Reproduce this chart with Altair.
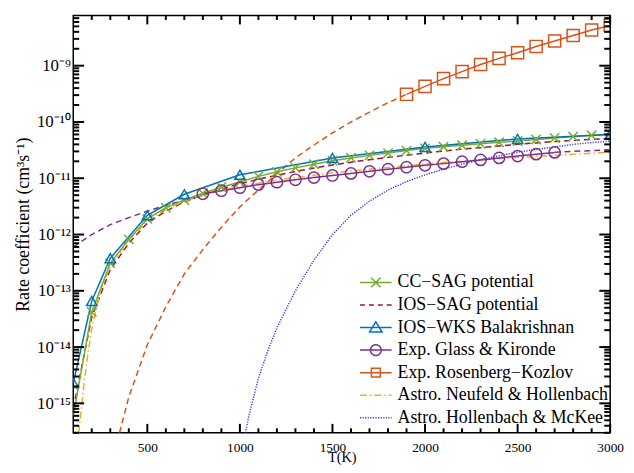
import altair as alt
import pandas as pd

# ---------------- data ----------------
SERIES = ["CC\u2212SAG potential", "IOS\u2212SAG potential", "IOS\u2212WKS Balakrishnan",
          "Exp. Glass & Kironde", "Exp. Rosenberg\u2212Kozlov",
          "Astro. Neufeld & Hollenbach", "Astro. Hollenbach & McKee"]
COLORS = ["#77AC30", "#A2142F", "#0072BD", "#7E2F8E", "#D95319", "#EDB120", "#3636FF"]

T_full = [100, 200, 300, 400, 500, 600, 700, 800, 900, 1000, 1100, 1200, 1300, 1400, 1500,
          1600, 1700, 1800, 1900, 2000, 2100, 2200, 2300, 2400, 2500, 2600, 2700, 2800, 2900, 3000]
k_cc = [6.0e-16, 4.2e-14, 3.1e-13, 8.2e-13, 1.9e-12, 3.0e-12, 4.1e-12, 5.4e-12, 6.9e-12, 8.6e-12,
        1.08e-11, 1.3e-11, 1.53e-11, 1.78e-11, 2.05e-11, 2.3e-11, 2.55e-11, 2.8e-11, 3.1e-11, 3.4e-11,
        3.62e-11, 3.85e-11, 4.1e-11, 4.35e-11, 4.6e-11, 4.9e-11, 5.2e-11, 5.5e-11, 5.8e-11, 6.1e-11]
k_sag = [8.0e-16, 3.4e-14, 2.4e-13, 7.0e-13, 1.6e-12, 2.6e-12, 3.8e-12, 5.0e-12, 6.4e-12, 8.0e-12,
         9.6e-12, 1.13e-11, 1.32e-11, 1.52e-11, 1.72e-11, 1.93e-11, 2.13e-11, 2.35e-11, 2.57e-11, 2.8e-11,
         3.05e-11, 3.3e-11, 3.5e-11, 3.75e-11, 4.0e-11, 4.25e-11, 4.5e-11, 4.7e-11, 4.9e-11, 5.1e-11]
T_wks = [100, 200, 300, 500, 700, 1000, 1500, 2000, 2500, 3000]
k_wks = [2.3e-15, 6.6e-14, 3.8e-13, 2.2e-12, 5.2e-12, 1.15e-11, 2.3e-11, 3.6e-11, 5.0e-11, 6.0e-11]
T_glass = [800, 900, 1000, 1100, 1200, 1300, 1400, 1500, 1600, 1700, 1800, 1900, 2000, 2100,
           2200, 2300, 2400, 2500, 2600, 2700]
k_glass = [5.3e-12, 6.0e-12, 6.8e-12, 7.7e-12, 8.5e-12, 9.4e-12, 1.03e-11, 1.12e-11, 1.22e-11, 1.33e-11,
           1.45e-11, 1.57e-11, 1.7e-11, 1.82e-11, 1.97e-11, 2.12e-11, 2.3e-11, 2.48e-11, 2.68e-11, 2.88e-11]
T_glass_lo = [100, 200, 300, 400, 500, 600, 700, 800]
k_glass_lo = [6.0e-13, 1.0e-12, 1.5e-12, 2.0e-12, 2.6e-12, 3.3e-12, 4.1e-12, 5.0e-12]
T_glass_hi = [2700, 2800, 2900, 3000]
k_glass_hi = [2.9e-11, 3.0e-11, 3.1e-11, 3.2e-11]
T_rk = [1900, 2000, 2100, 2200, 2300, 2400, 2500, 2600, 2700, 2800, 2900, 3000]
k_rk = [3.1e-10, 4.3e-10, 5.9e-10, 7.85e-10, 1.05e-9, 1.35e-9, 1.7e-9, 2.2e-9, 2.75e-9, 3.45e-9,
        4.3e-9, 5.2e-9]
T_rk_fit = [350, 400, 500, 600, 700, 800, 900, 1000, 1100, 1200, 1300, 1400, 1500, 1600, 1700, 1800, 1900]
k_rk_fit = [3.0e-16, 1.3e-15, 1.1e-14, 5.2e-14, 2.0e-13, 5.4e-13, 1.35e-12, 3.1e-12, 6.2e-12, 1.2e-11,
            2.3e-11, 3.9e-11, 6.4e-11, 1.0e-10, 1.5e-10, 2.2e-10, 3.1e-10]
T_nh = [130, 140, 160, 180, 200, 250, 300, 400, 500, 600, 700, 800, 1000, 1200, 1500, 2000, 2500, 3000]
k_nh = [3.0e-16, 6.3e-16, 2.5e-15, 8.0e-15, 2.1e-14, 1.1e-13, 2.7e-13, 8.0e-13, 1.7e-12, 2.8e-12,
        3.9e-12, 5.0e-12, 7.2e-12, 9.3e-12, 1.25e-11, 1.8e-11, 2.35e-11, 2.9e-11]
T_hm = [1030, 1050, 1100, 1150, 1200, 1300, 1400, 1500, 1600, 1700, 1800, 1900, 2000, 2100, 2200,
        2300, 2400, 2500, 2600, 2700, 2800, 2900, 3000]
k_hm = [3.0e-16, 6.3e-16, 2.8e-15, 8.5e-15, 2.2e-14, 1.0e-13, 3.5e-13, 1.0e-12, 2.2e-12, 3.9e-12,
        6.2e-12, 8.7e-12, 1.15e-11, 1.45e-11, 1.78e-11, 2.14e-11, 2.5e-11, 2.9e-11, 3.25e-11, 3.6e-11,
        4.0e-11, 4.3e-11, 4.55e-11]

# axis ticks / labels
X_DOMAIN = [100, 3000]
Y_DOMAIN = [3e-16, 7.8e-9]
X_MAJOR = [500, 1000, 1500, 2000, 2500, 3000]
X_MINOR = [t for t in T_full if t % 500 != 0 and t > 100]
Y_MAJOR = [1e-15, 1e-14, 1e-13, 1e-12, 1e-11, 1e-10, 1e-9]
Y_MAJOR_LABELS = ["10\u207b\u00b9\u2075", "10\u207b\u00b9\u2074", "10\u207b\u00b9\u00b3",
                  "10\u207b\u00b9\u00b2", "10\u207b\u00b9\u00b9", "10\u207b\u00b9\u2070", "10\u207b\u2079"]
Y_MINOR = [m * 10.0 ** e for e in range(-16, -8) for m in range(2, 10)
           if Y_DOMAIN[0] <= m * 10.0 ** e <= Y_DOMAIN[1]]

FONT = "Liberation Serif"
W, H = 543, 422


def rows(T, k, series, style, seg):
    return [dict(T=t, k=v, series=series, style=style, seg=seg) for t, v in zip(T, k)]


dashed_df = pd.DataFrame(
    rows(T_full, k_sag, SERIES[1], "dash", "sag")
    + rows(T_glass_lo, k_glass_lo, SERIES[3], "dash", "glo")
    + rows(T_glass_hi, k_glass_hi, SERIES[3], "dash", "ghi")
    + rows(T_rk_fit, k_rk_fit, SERIES[4], "dash", "rkfit")
    + rows(T_nh, k_nh, SERIES[5], "dashdot", "nh")
    + rows(T_hm, k_hm, SERIES[6], "dot", "hm"))
solid_df = pd.DataFrame(
    rows(T_full, k_cc, SERIES[0], "solid", "cc")
    + rows(T_wks, k_wks, SERIES[2], "solid", "wks")
    + rows(T_glass, k_glass, SERIES[3], "solid", "glass")
    + rows(T_rk, k_rk, SERIES[4], "solid", "rk"))
mark_df = pd.DataFrame(rows(T_full[1:], k_cc[1:], SERIES[0], "m", "cc")
                       + rows(T_wks, k_wks, SERIES[2], "m", "wks")
                       + rows(T_glass, k_glass, SERIES[3], "m", "glass")
                       + rows(T_rk, k_rk, SERIES[4], "m", "rk"))
legend_df = pd.DataFrame({"series": SERIES})

xs = alt.Scale(domain=X_DOMAIN, nice=False, zero=False)
ys = alt.Scale(type="log", domain=Y_DOMAIN, nice=False)
color = alt.Color("series:N", scale=alt.Scale(domain=SERIES, range=COLORS), legend=None)

label_expr = ""
for v, lab in zip(Y_MAJOR[:-1], Y_MAJOR_LABELS[:-1]):
    label_expr += f"datum.value < {v * 3:g} ? '{lab}' : "
label_expr += f"'{Y_MAJOR_LABELS[-1]}'"

x_axis = alt.Axis(orient="bottom", values=X_MAJOR, ticks=False, domain=False, grid=False,
                  labelFont=FONT, labelFontSize=13.5, labelColor="black", labelPadding=8,
                  labelFlush=False, format="d",
                  title="T(K)", titleFont=FONT, titleFontSize=14.5, titleFontWeight="normal",
                  titleColor="black", titleX=W / 2, titleY=29, titleAlign="center",
                  titleBaseline="alphabetic")
y_axis = alt.Axis(orient="left", values=Y_MAJOR, ticks=False, domain=False, grid=False,
                  labelExpr=label_expr, labelFont=FONT, labelFontSize=17, labelColor="black",
                  labelPadding=3, labelFlush=False,
                  title="Rate coefficient (cm\u00b3s\u207b\u00b9)", titleFont=FONT, titleFontSize=18,
                  titleFontWeight="normal", titleColor="black", titleX=-45, titleY=H / 2,
                  titleAngle=270, titleAlign="center", titleBaseline="alphabetic")

dashed = alt.Chart(dashed_df).mark_line(clip=True).encode(
    x=alt.X("T:Q", scale=xs, axis=x_axis),
    y=alt.Y("k:Q", scale=ys, axis=y_axis),
    color=color,
    strokeDash=alt.StrokeDash("style:N", scale=alt.Scale(domain=["dash", "dashdot", "dot"],
                                                           range=[[6, 4], [7, 3, 1.5, 3], [1.2, 1.4]]),
                              legend=None),
    strokeWidth=alt.StrokeWidth("style:N", scale=alt.Scale(domain=["dash", "dashdot", "dot"],
                                                             range=[1.5, 1.5, 2.8]), legend=None),
    detail="seg:N",
)

solid = alt.Chart(solid_df).mark_line(clip=True, strokeWidth=1.5).encode(
    x=alt.X("T:Q", scale=xs, axis=None),
    y=alt.Y("k:Q", scale=ys, axis=None),
    color=color,
    detail="seg:N",
)

X_PATH = "M-1,-1L1,1M-1,1L1,-1"
MARK_DOMAIN = [SERIES[0], SERIES[2], SERIES[3], SERIES[4]]
marks = alt.Chart(mark_df).mark_point(filled=False, strokeWidth=1.5, opacity=1, clip=True).encode(
    x=alt.X("T:Q", scale=xs, axis=None),
    y=alt.Y("k:Q", scale=ys, axis=None),
    color=color,
    shape=alt.Shape("series:N", scale=alt.Scale(domain=MARK_DOMAIN,
                                                range=[X_PATH, "triangle-up", "circle", "square"]),
                    legend=None),
    size=alt.Size("series:N", scale=alt.Scale(domain=MARK_DOMAIN, range=[90, 150, 121, 72]), legend=None),
)

# inward axis ticks (major and minor) on all four sides
TICK_W = 2
tick_layers = []
for vals, ln in [(X_MAJOR, 9), (X_MINOR, 4.5)]:
    df = pd.DataFrame({"T": vals})
    for top in (False, True):
        tick_layers.append(alt.Chart(df).mark_rule(color="#000000", strokeWidth=TICK_W).encode(
            x=alt.X("T:Q", scale=xs, axis=None),
            y=alt.value(0 if top else H), y2=alt.value(ln if top else H - ln)))
for vals, ln in [(Y_MAJOR, 11), (Y_MINOR, 6)]:
    df = pd.DataFrame({"k": vals})
    for right in (False, True):
        tick_layers.append(alt.Chart(df).mark_tick(color="#000000", thickness=TICK_W, size=ln,
                                                   orient="horizontal", opacity=1).encode(
            y=alt.Y("k:Q", scale=ys, axis=None),
            x=alt.value(W - ln / 2 if right else ln / 2)))

LEG_PATHS = [
    "M-2,0L2,0M-0.6,-0.6L0.6,0.6M-0.6,0.6L0.6,-0.6",
    "M-2,0L2,0",
    "M-2,0L2,0M0,-0.72L0.78,0.55L-0.78,0.55Z",
    "M-2,0L2,0M0.68,0A0.68,0.68 0 1,1 -0.68,0A0.68,0.68 0 1,1 0.68,0",
    "M-2,0L2,0M-0.56,-0.56L0.56,-0.56L0.56,0.56L-0.56,0.56Z",
    "M-2,0L2,0",
    "M-2,0L2,0",
]
LEG_DASH = [[1, 0], [5, 4], [1, 0], [1, 0], [1, 0], [7, 3, 1.5, 3], [1.2, 1.4]]

leg = alt.Legend(orient="none", legendX=297, legendY=261, title=None, padding=0,
                 labelFont=FONT, labelFontSize=18, labelColor="black", labelLimit=0,
                 labelOffset=13, rowPadding=4.8, symbolSize=256, symbolStrokeWidth=1.5,
                 symbolFillColor="transparent")

legend_layer = alt.Chart(legend_df).mark_point(filled=False, opacity=0, strokeWidth=1.5).encode(
    x=alt.value(0), y=alt.value(0),
    color=alt.Color("series:N", scale=alt.Scale(domain=SERIES, range=COLORS), legend=leg),
    shape=alt.Shape("series:N", scale=alt.Scale(domain=SERIES, range=LEG_PATHS), legend=leg),
    strokeDash=alt.StrokeDash("series:N", scale=alt.Scale(domain=SERIES, range=LEG_DASH), legend=leg),
)

chart = alt.layer(dashed, solid, marks, *tick_layers, legend_layer).resolve_scale(
    x="shared", y="shared", color="independent", shape="independent",
    strokeDash="independent", size="independent", strokeWidth="independent",
).resolve_axis(x="independent", y="independent").properties(
    width=W, height=H,
    padding={"left": 66, "top": 5, "right": 16, "bottom": 30},
    autosize=alt.AutoSizeParams(type="none"),
    background="white",
).configure_view(stroke="black", strokeWidth=1.5)

chart.save("out.html", embed_options={"renderer": "svg", "actions": False})
